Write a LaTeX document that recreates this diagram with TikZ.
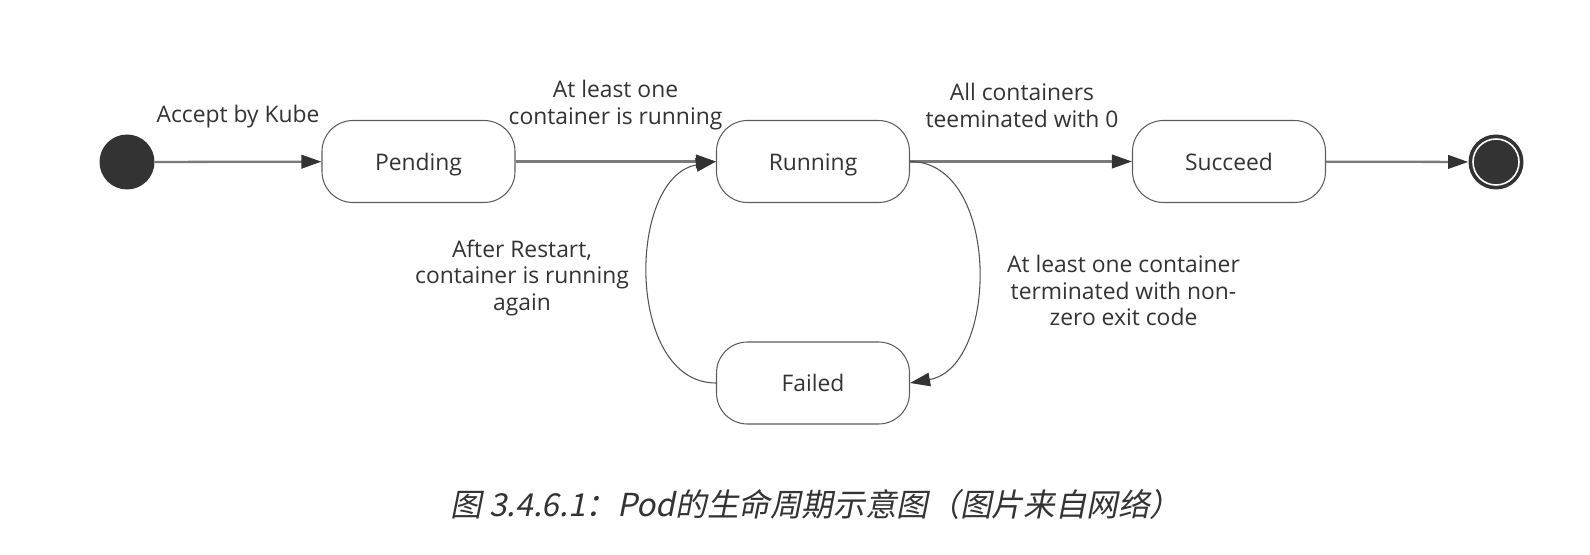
\documentclass[tikz,border=0pt]{standalone}
\usepackage{fontspec}
\setmainfont{Open Sans}
\newfontfamily\cjkcap[FakeSlant=0.2]{Noto Sans CJK SC}
\usepackage{tikz}
\usetikzlibrary{arrows.meta}
\definecolor{ink}{HTML}{333333}
\definecolor{wire}{HTML}{7A7A7A}

\begin{document}
\begin{tikzpicture}[
	every node/.style={text=ink, font=\fontsize{13}{15.3}\selectfont},
	state/.style={draw=ink!80, line width=0.6pt, rounded corners=0.62cm, minimum width=3.86cm, minimum height=1.64cm, text height=1em, text depth=0em},
	edgetext/.style={align=center, inner sep=0pt},
	flow/.style={draw=wire, line width=1.3pt, -{Triangle[length=4mm,width=2.7mm,fill=ink,color=ink]}},
	loop/.style={draw=ink!85, line width=0.6pt, -{Triangle[length=4mm,width=2.7mm,fill=ink,color=ink]}},
	> = stealth]
				\useasboundingbox (0,0) rectangle (31.8,11.08);
				\node[circle, fill=ink, minimum size=1.1cm, inner sep=0pt] (start) at (2.54,7.84) {};
				\node[state] (pending) at (8.37,7.85) {Pending};
				\node[state] (running) at (16.26,7.85) {Running};
				\node[state] (succeed) at (24.58,7.85) {Succeed};
				\node[state] (failed) at (16.26,3.42) {Failed};
				\node[circle, fill=ink, minimum size=1.1cm, inner sep=0pt] (stop) at (29.92,7.84) {};
				\draw[white, line width=0.9pt] (stop.center) circle (0.46cm);

				\draw[flow] (start) -- (pending);
				\draw[flow] (pending) -- (running);
				\draw[flow] (running) -- (succeed);
				\draw[flow] (succeed) -- (stop);
				\draw[loop] (running.east) to[out=0, in=10, looseness=1.05] (failed.east);
				\draw[loop] (failed.west) to[out=180, in=190, looseness=1.05] (running.west);

				\node[edgetext] (accept) at (4.76,8.74) {Accept by Kube};
				\node[edgetext] (onerun) at (12.31,8.98) {At least one\\container is running};
				\node[edgetext] (allzero) at (20.44,8.98) {All containers\\teeminated with 0};
				\node[edgetext] (restart) at (10.44,5.52) {After Restart,\\container is running\\again};
				\node[edgetext] (nonzero) at (22.47,5.27) {At least one container\\terminated with non-\\zero exit code};
				\node[inner sep=0pt] (caption) at (16.32,1.0) {\cjkcap\fontsize{18}{20}\selectfont 图 3.4.6.1：Pod的生命周期示意图（图片来自网络）};
			\end{tikzpicture}
\end{document}
